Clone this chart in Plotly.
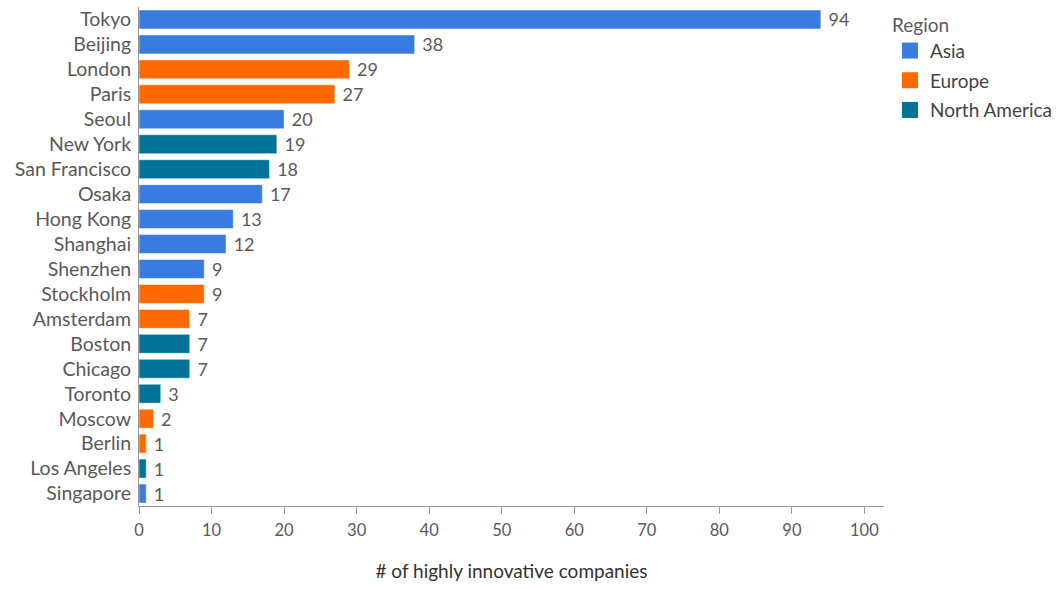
import plotly.graph_objects as go

cities = ["Tokyo", "Beijing", "London", "Paris", "Seoul", "New York", "San Francisco",
          "Osaka", "Hong Kong", "Shanghai", "Shenzhen", "Stockholm", "Amsterdam",
          "Boston", "Chicago", "Toronto", "Moscow", "Berlin", "Los Angeles", "Singapore"]
companies = [94, 38, 29, 27, 20, 19, 18, 17, 13, 12, 9, 9, 7, 7, 7, 3, 2, 1, 1, 1]
regions = ["Asia", "Asia", "Europe", "Europe", "Asia", "North America", "North America",
           "Asia", "Asia", "Asia", "Asia", "Europe", "Europe", "North America",
           "North America", "North America", "Europe", "Europe", "North America", "Asia"]

region_order = ["Asia", "Europe", "North America"]
region_colors = {"Asia": "#3a7be0", "Europe": "#ff6a00", "North America": "#007396"}

FONT = "Lato"
TEXT = "#5a5a5a"

fig = go.Figure()
for reg in region_order:
    ys = [c for c, r in zip(cities, regions) if r == reg]
    xs = [v for v, r in zip(companies, regions) if r == reg]
    fig.add_trace(go.Bar(
        x=xs, y=ys, name=reg, orientation="h", showlegend=False, legendgroup=reg,
        marker=dict(color=region_colors[reg], line=dict(color="rgba(255,255,255,0.5)", width=1)),
        texttemplate=" %{x}", textposition="outside", constraintext="none",
        textfont=dict(family=FONT, size=18, color=TEXT),
        cliponaxis=False,
    ))

# legend entries drawn as larger square swatches
for reg in region_order:
    fig.add_trace(go.Scatter(
        x=[None], y=[None], mode="markers", name=reg, legendgroup=reg,
        marker=dict(symbol="square", size=17, color=region_colors[reg]),
    ))

fig.update_layout(
    width=1059, height=589,
    margin=dict(l=139, r=175, t=7, b=83, autoexpand=False),
    paper_bgcolor="white", plot_bgcolor="white",
    bargap=0.24,
    font=dict(family=FONT, color=TEXT),
    legend=dict(
        title=dict(text="Region", font=dict(family=FONT, size=19, color=TEXT)),
        font=dict(family=FONT, size=19, color="#444"),
        x=1.008, y=1.0, xanchor="left", yanchor="top",
        tracegroupgap=2, itemsizing="trace",
    ),
    showlegend=True,
)
fig.update_yaxes(
    categoryorder="array", categoryarray=cities, autorange="reversed",
    showline=True, linecolor="#999", linewidth=1,
    ticks="", tickfont=dict(family=FONT, size=19.5, color=TEXT),
    showgrid=False, ticklabelstandoff=3, automargin=False,
)
fig.update_xaxes(
    range=[0, 102.7], tickmode="array", tickvals=list(range(0, 101, 10)),
    showline=True, linecolor="#999", linewidth=1,
    ticks="outside", ticklen=7, tickcolor="#999",
    tickfont=dict(family=FONT, size=16.5, color=TEXT), ticklabelstandoff=2,
    showgrid=False, zeroline=False, automargin=False,
    title=dict(text="# of highly innovative companies", font=dict(family=FONT, size=19, color="#333"), standoff=25),
)

fig.write_html("out.html")
